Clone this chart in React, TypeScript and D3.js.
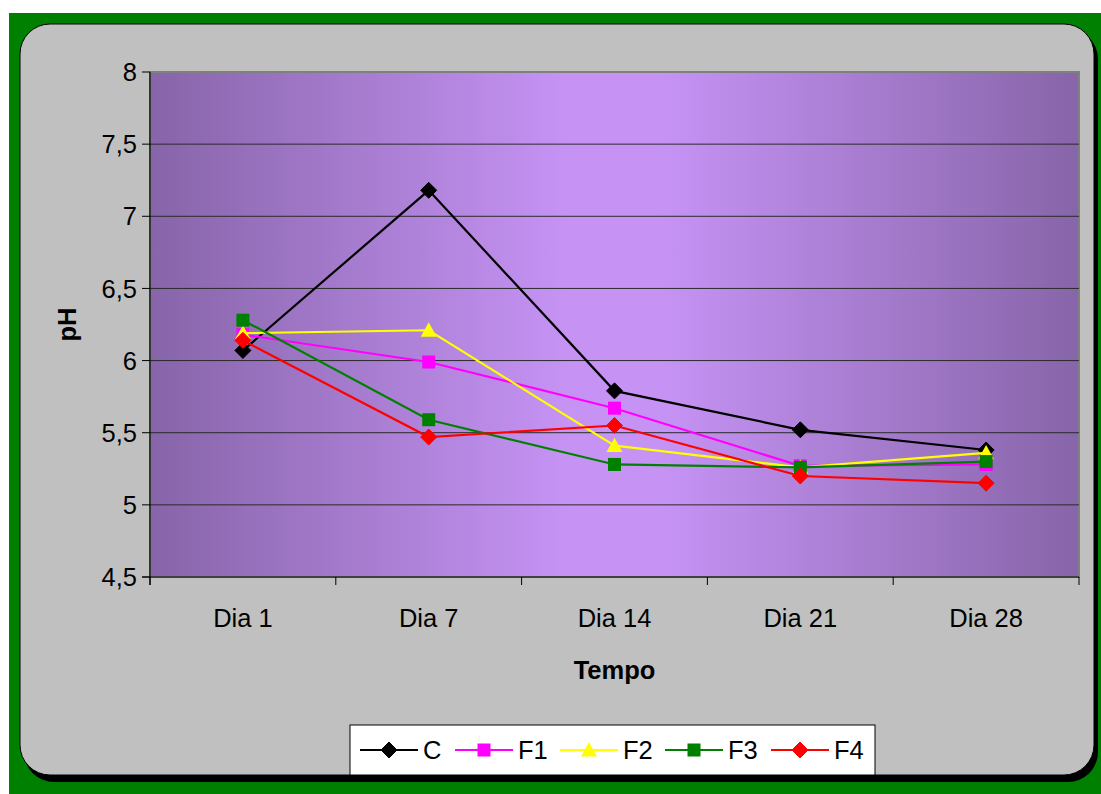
import React from "react";
import * as d3 from "d3";

const categories = ["Dia 1", "Dia 7", "Dia 14", "Dia 21", "Dia 28"];
const seriesNames = ["C", "F1", "F2", "F3", "F4"];
const valuesC = [6.07, 7.18, 5.79, 5.52, 5.38];
const valuesF1 = [6.18, 5.99, 5.67, 5.27, 5.28];
const valuesF2 = [6.19, 6.21, 5.41, 5.26, 5.36];
const valuesF3 = [6.28, 5.59, 5.28, 5.26, 5.3];
const valuesF4 = [6.14, 5.47, 5.55, 5.2, 5.15];
const yTicks = [4.5, 5, 5.5, 6, 6.5, 7, 7.5, 8];
const colors = ["#000000", "#FF00FF", "#FFFF00", "#008000", "#FF0000"];
const markers = ["diamond", "square", "triangle", "square", "diamond"];

const allValues = [valuesC, valuesF1, valuesF2, valuesF3, valuesF4];

const W = 1101;
const H = 794;
const plot = { left: 150, right: 1079, top: 72, bottom: 577 };
const FONT = "'Liberation Sans', Arial, sans-serif";

function Marker({ type, x, y, color, size }: { type: string; x: number; y: number; color: string; size: number }) {
  if (type === "diamond") {
    const s = size;
    return <path d={`M${x},${y - s}L${x + s},${y}L${x},${y + s}L${x - s},${y}Z`} fill={color} stroke={color} strokeWidth={1} />;
  }
  if (type === "square") {
    const s = size - 1.5;
    return <rect x={x - s} y={y - s} width={2 * s} height={2 * s} fill={color} />;
  }
  const s = size;
  return <path d={`M${x},${y - s}L${x + s},${y + s * 0.8}L${x - s},${y + s * 0.8}Z`} fill={color} />;
}

export default function App() {
  const x = d3.scaleBand<string>().domain(categories).range([plot.left, plot.right]).padding(0);
  const y = d3.scaleLinear().domain([4.5, 8]).range([plot.bottom, plot.top]);
  const cx = (c: string) => (x(c) as number) + x.bandwidth() / 2;
  const line = d3
    .line<number>()
    .x((_, i) => cx(categories[i]))
    .y((d) => y(d));

  const boundaries = categories.map((c) => x(c) as number).concat([plot.right]);

  const legendItems = [
    { x0: 360, tx: 423 },
    { x0: 455, tx: 518 },
    { x0: 560, tx: 623 },
    { x0: 665, tx: 728 },
    { x0: 771, tx: 834 },
  ];

  return (
    <svg width={W} height={H} style={{ position: "absolute", left: 0, top: 0 }} fontFamily={FONT}>
      <defs>
        <linearGradient id="bg" x1="0" x2="1" y1="0" y2="0">
          <stop offset="0" stopColor="#8765A9" />
          <stop offset="0.45" stopColor="#C693F5" />
          <stop offset="0.55" stopColor="#C693F5" />
          <stop offset="1" stopColor="#8765A9" />
        </linearGradient>
      </defs>
      <rect x={9} y={13} width={W - 9} height={H - 13} fill="#008000" />
      <rect x={24} y={29} width={1074} height={753} rx={30} ry={30} fill="#000" />
      <rect x={20} y={24} width={1074} height={751} rx={30} ry={30} fill="#C0C0C0" stroke="#000" strokeWidth={1} />

      <rect x={plot.left} y={plot.top} width={plot.right - plot.left} height={plot.bottom - plot.top} fill="url(#bg)" stroke="#808080" strokeWidth={2} />

      {yTicks.slice(1, -1).map((t) => (
        <line key={t} x1={plot.left} x2={plot.right} y1={y(t)} y2={y(t)} stroke="#2a2a2a" strokeWidth={1} />
      ))}

      <line x1={plot.left} x2={plot.left} y1={plot.top} y2={plot.bottom + 8} stroke="#000" strokeWidth={1.2} />
      <line x1={plot.left - 8} x2={plot.right} y1={plot.bottom} y2={plot.bottom} stroke="#000" strokeWidth={1.2} />
      {yTicks.map((t) => (
        <g key={t}>
          <line x1={plot.left - 8} x2={plot.left} y1={y(t)} y2={y(t)} stroke="#000" strokeWidth={1} />
          <text x={plot.left - 13} y={y(t)} dy="0.36em" textAnchor="end" fontSize={25.5} fill="#000">
            {String(t).replace(".", ",")}
          </text>
        </g>
      ))}
      {boundaries.map((b, i) => (
        <line key={i} x1={b} x2={b} y1={plot.bottom} y2={plot.bottom + 8} stroke="#000" strokeWidth={1} />
      ))}
      {categories.map((c) => (
        <text key={c} x={cx(c)} y={627} textAnchor="middle" fontSize={25.5} fill="#000">
          {c}
        </text>
      ))}

      <text x={(plot.left + plot.right) / 2} y={679} textAnchor="middle" fontSize={25.5} fontWeight="bold" fill="#000">
        Tempo
      </text>
      <text transform={`translate(76,${(plot.top + plot.bottom) / 2}) rotate(-90)`} textAnchor="middle" fontSize={25.5} fontWeight="bold" fill="#000">
        pH
      </text>

      {allValues.map((vals, si) => (
        <g key={si}>
          <path d={line(vals) || ""} fill="none" stroke={colors[si]} strokeWidth={2.2} />
          {vals.map((v, i) => (
            <Marker key={i} type={markers[si]} x={cx(categories[i])} y={y(v)} color={colors[si]} size={8} />
          ))}
        </g>
      ))}

      <rect x={350} y={725} width={525} height={50} fill="#fff" stroke="#000" strokeWidth={1} />
      {seriesNames.map((n, i) => (
        <g key={n}>
          <line x1={legendItems[i].x0} x2={legendItems[i].x0 + 58} y1={750} y2={750} stroke={colors[i]} strokeWidth={2} />
          <Marker type={markers[i]} x={legendItems[i].x0 + 29} y={750} color={colors[i]} size={8} />
          <text x={legendItems[i].tx} y={750} dy="0.36em" fontSize={25.5} fill="#000">
            {n}
          </text>
        </g>
      ))}
    </svg>
  );
}
